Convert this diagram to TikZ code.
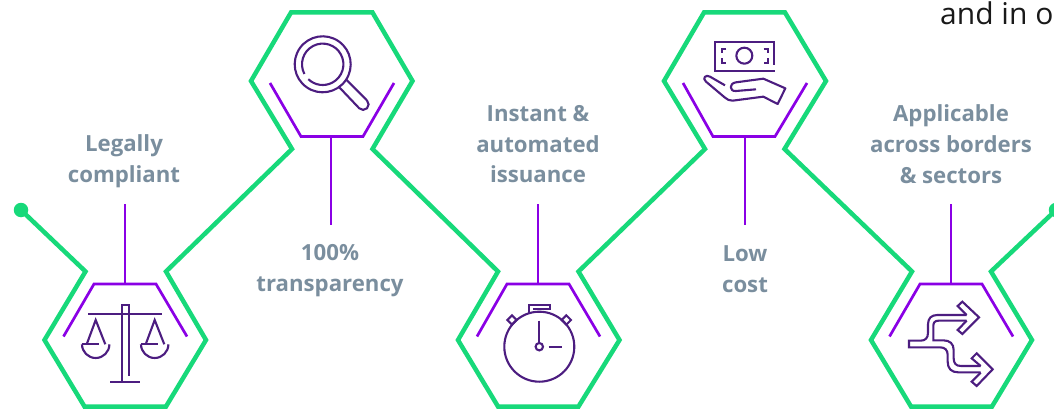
\documentclass[tikz,border=0pt]{standalone}
\usepackage{fontspec}
\setmainfont{Open Sans}
\definecolor{gline}{HTML}{17D97A}
\definecolor{pline}{HTML}{8A00E5}
\definecolor{iconc}{HTML}{4C1D80}
\definecolor{labelc}{HTML}{7A8E9E}
\tikzset{
  greenline/.style={draw=gline,line width=4.5pt,line join=miter,miter limit=10},
  purpleline/.style={draw=pline,line width=2.7pt,line join=miter},
  iconline/.style={draw=iconc,line width=2.1pt,line join=miter},
  dotmark/.style={circle,fill=gline,inner sep=0pt,minimum size=14.5pt},
  lab/.style={text=labelc,font=\fontsize{22.2}{30.8}\selectfont\bfseries,align=center,inner sep=0pt},
  oddtext/.style={text=black!90,font=\fontsize{30}{30}\selectfont,inner sep=0pt,anchor=base west}
}
\begin{document}
\begin{tikzpicture}[x=1pt,y=1pt,yscale=-1]
\useasboundingbox (0,0) rectangle (1054,409);
\clip (0,0) rectangle (1054,409);
% end dots
\node[dotmark] (startdot) at (21,210) {};
\node[dotmark] (enddot) at (1056,210) {};
% green line
\draw[greenline] (startdot.center) -- (85.5,271.5) -- (44.5,340) -- (84.5,406.5) -- (166,406.5) -- (206,340) -- (166,271.5)
  -- (292,149) -- (251,81) -- (291,12.5) -- (372.5,12.5) -- (412.5,81) -- (372.5,149)
  -- (498,271.5) -- (458,340) -- (498,406.5) -- (578.5,406.5) -- (619.5,340) -- (578.5,271.5)
  -- (705,149) -- (664,81) -- (704,12.5) -- (785,12.5) -- (826,81) -- (784.5,149)
  -- (912,271.5) -- (871,340) -- (911,406.5) -- (992,406.5) -- (1032,340) -- (991,271.5) -- (enddot.center);
% purple cups and stems
\coordinate (hubA) at (125,284);  \coordinate (tipA) at (125,204);
\coordinate (hubB) at (331,136.5); \coordinate (tipB) at (331,225);
\coordinate (hubC) at (538,284);  \coordinate (tipC) at (538,204);
\coordinate (hubD) at (745,136.5); \coordinate (tipD) at (745,225);
\coordinate (hubE) at (951,284);  \coordinate (tipE) at (951,204);
\draw[purpleline] (63.5,336.5) -- (94,284) -- (156,284) -- (187,336.5);
\draw[purpleline] (270,83) -- (301,136.5) -- (363,136.5) -- (394,83);
\draw[purpleline] (477,336.5) -- (507,284) -- (569,284) -- (600,336.5);
\draw[purpleline] (683,83) -- (713,136.5) -- (775,136.5) -- (807,83);
\draw[purpleline] (889.5,336.5) -- (920,284) -- (982,284) -- (1013,336.5);
\draw[purpleline] (hubA) -- (tipA);
\draw[purpleline] (hubB) -- (tipB);
\draw[purpleline] (hubC) -- (tipC);
\draw[purpleline] (hubD) -- (tipD);
\draw[purpleline] (hubE) -- (tipE);
% labels
\node[lab] (lA) at (124,161.5) {Legally\\compliant};
\node[lab] (lB) at (330,271) {100\%\\transparency};
\node[lab] (lC) at (538,144.2) {Instant \&\\automated\\issuance};
\node[lab] (lD) at (745,269.2) {Low\\cost};
\node[lab] (lE) at (951,144.2) {Applicable\\across borders\\\& sectors};
\node[oddtext] (cutoff) at (940,25) {and in o};
% scales icon
\begin{scope}[iconline]
\draw (88,314) -- (162.3,314);
\draw (121.7,381.7) -- (121.7,305) -- (128.7,305) -- (128.7,375.7);
\draw (110,381.7) -- (140.3,381.7);
\draw (86.7,344.3) -- (95.7,320) -- (105.3,344.3);
\draw (81.7,344.3) -- (99,344.3);
\draw (82,344.3) arc[start angle=180,end angle=0,radius=13.7] ;
\draw (141,344.3) -- (158,344.3);
\draw (145.7,344.3) -- (154.7,320) -- (164.3,344.3);
\draw (141,344.3) arc[start angle=180,end angle=0,radius=13.7];
\end{scope}
% magnifier icon
\begin{scope}[iconline]
\draw (322.7,64.3) ++(125:28) arc[start angle=125,end angle=485,radius=28];
\draw (322.7,64.3) ++(152:20.7) arc[start angle=152,end angle=494,radius=20.7];
\draw (346,79.3) -- (367,100.5) arc[start angle=-45,end angle=135,radius=5.5] -- (339.3,87.3);
\end{scope}
% stopwatch icon
\begin{scope}[iconline]
\draw (539.3,346.7) circle[radius=35];
\draw (529,313.5) -- (529,305) -- (550,305) -- (550,309.3) -- (533,309.3);
\draw (512,315.3) -- (516.7,320) -- (512,324.7) -- (507.3,320) -- cycle;
\draw (566.3,315.3) -- (571,320) -- (566.3,324.7) -- (561.6,320) -- cycle;
\draw (539.3,320.7) -- (539.3,343);
\draw (539.3,346.7) circle[radius=3.7];
\draw (548.7,346.7) -- (561.7,346.7);
\end{scope}
% money and hand icon (zoom coordinates)
\begin{scope}[iconline,shift={(650,0)},scale=1/3]
\draw (373,195) -- (373,125) -- (195,125) -- (195,212) -- (376,212);
\draw (283,167) circle[radius=24];
\draw (229,146) -- (216,146) -- (216,160);
\draw (216,175) -- (216,190) -- (229,190);
\draw (341,146) -- (354,146) -- (354,160);
\draw (354,175) -- (354,190) -- (341,190);
\draw[line join=round] (318,268) -- (258,273) .. controls (238,275) and (236,250) .. (258,247)
  -- (340,236) -- (406,265) -- (383,312) -- (340,290) -- (248,302) .. controls (238,303) and (232,298) .. (225,293)
  -- (168,245) .. controls (155,235) and (168,222) .. (180,230) -- (225,256);
\end{scope}
% arrows icon (zoom coordinates)
\begin{scope}[iconline,shift={(860,190)},scale=1/3]
\draw (320,375) -- (293,348) -- (307,335) -- (357,382) -- (307,432) -- (293,420) -- (320,392);
\draw (362,528) -- (335,505) -- (350,490) -- (398,538) -- (350,588) -- (335,575) -- (362,548);
\draw (320,375) -- (232,375) .. controls (214,375) and (204,385) .. (204,403) -- (204,428) .. controls (204,444) and (196,452) .. (182,452) -- (147,452) -- (147,472) -- (240,472) .. controls (255,472) and (263,480) .. (263,495) -- (263,515) .. controls (263,536) and (274,547) .. (295,547) -- (362,547);
\draw (320,392) -- (236,392) .. controls (224,392) and (220,398) .. (220,408) -- (220,451) -- (250,451) .. controls (270,451) and (281,462) .. (281,480) -- (281,505) .. controls (281,520) and (288,528) .. (303,528) -- (362,528);
\end{scope}
\end{tikzpicture}
\end{document}
